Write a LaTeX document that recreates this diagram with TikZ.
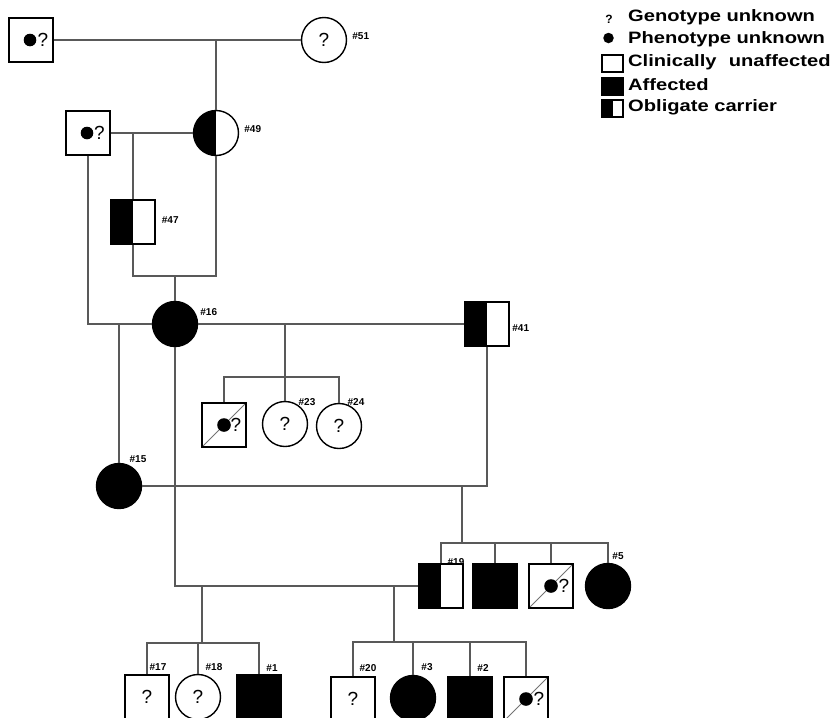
\documentclass[tikz,border=0pt]{standalone}
\usepackage{fontspec}
\setmainfont{Liberation Sans}
\usepackage{graphicx}
\usepackage{tikz}
\usetikzlibrary{positioning}

\begin{document}
\begin{tikzpicture}[x=1pt, y=-1pt,
    male/.style={rectangle, draw=black, line width=1.4pt, minimum size=44pt, inner sep=0pt, font=\fontsize{19}{19}\selectfont},
    female/.style={circle, draw=black, line width=1.4pt, minimum size=45pt, inner sep=0pt, font=\fontsize{19}{19}\selectfont},
    affected/.style={fill=black},
    carrier/.style={path picture={\fill[black] (path picture bounding box.south west) rectangle (path picture bounding box.north);}},
    phenounk/.style={path picture={\fill[black] ([xshift=-1pt]path picture bounding box.center) circle (6.3pt);}},
    deadunk/.style={path picture={\draw[black!55, line width=1pt] (path picture bounding box.south west) -- (path picture bounding box.north east); \fill[black] (path picture bounding box.center) circle (6.8pt);}},
    link/.style={draw=black!65, line width=1.3pt},
    tag/.style={font=\bfseries\fontsize{10}{10}\selectfont, inner sep=0pt},
    legtext/.style={font=\bfseries\fontsize{16.5}{16.5}\selectfont, anchor=base west, inner sep=0pt},
    legbox/.style={rectangle, draw=black, line width=1.1pt, minimum width=21pt, minimum height=17pt, inner sep=0pt}
]
\useasboundingbox (0,0) rectangle (836,718);
\clip (0,0) rectangle (836,718);

\node[male, phenounk] (i1) at (31,40) {\hspace*{24pt}?};
\node[female] (p51) at (324,40) {?};
\node[tag, right=5pt of p51, yshift=4pt] (t51) {\#51};
\coordinate (m1) at (216,40);

\node[male, phenounk] (ii1) at (88,133) {\hspace*{23pt}?};
\node[female, carrier] (p49) at (216,133) {};
\node[tag, right=5pt of p49, yshift=4pt] (t49) {\#49};
\node[male, carrier] (p47) at (133,222) {};
\node[tag, right=6pt of p47, yshift=2pt] (t47) {\#47};
\coordinate (m2) at (133,133);
\coordinate (s2l) at (133,276);
\coordinate (s2r) at (216,276);
\coordinate (s2m) at (175,276);

\node[female, affected] (p16) at (175,324) {};
\node[tag, right=2pt of p16, yshift=12pt] (t16) {\#16};
\node[male, carrier] (p41) at (487,324) {};
\node[tag, right=2.5pt of p41, yshift=-4pt] (t41) {\#41};
\node[female, affected] (p15) at (119,486) {};
\node[tag] (t15) at (138,459) {\#15};
\coordinate (j15) at (119,324);
\coordinate (c41) at (487,486);

\coordinate (m3) at (285,324);
\coordinate (s3) at (285,377);
\node[male, deadunk] (d3) at (224,425) {\hspace*{24pt}?};
\node[female] (p23) at (285,424) {?};
\node[tag] (t23) at (307,402) {\#23};
\node[female] (p24) at (339,426) {?};
\node[tag] (t24) at (356,402) {\#24};

\coordinate (m4) at (462,486);
\coordinate (s4) at (462,543);
\node[male, carrier] (p19) at (441,586) {};
\node[tag] (t19) at (456,562) {\#19};
\node[male, affected] (a4) at (495,586) {};
\node[male, deadunk] (d4) at (551,586) {\hspace*{26pt}?};
\node[female, affected] (p5) at (608,586) {};
\node[tag] (t5) at (618,556) {\#5};

\coordinate (m5) at (202,586);
\coordinate (s5) at (202,643);
\node[male] (p17) at (147,697) {?};
\node[tag] (t17) at (158,667) {\#17};
\node[female] (p18) at (198,697) {?};
\node[tag] (t18) at (214,667) {\#18};
\node[male, affected] (p1) at (259,697) {};
\node[tag] (t1) at (272,668) {\#1};

\coordinate (m6) at (394,586);
\coordinate (s6) at (394,642);
\node[male] (p20) at (353,699) {?};
\node[tag] (t20) at (368,668) {\#20};
\node[female, affected] (p3) at (413,698) {};
\node[tag] (t3) at (427,667) {\#3};
\node[male, affected] (p2) at (470,699) {};
\node[tag] (t2) at (483,668) {\#2};
\node[male, deadunk] (d5) at (526,699) {\hspace*{26pt}?};

\draw[link] (i1) -- (p51);
\draw[link] (m1) -- (p49);
\draw[link] (ii1) -- (p49);
\draw[link] (m2) -- (p47);
\draw[link] (p47) -- (s2l) -- (s2r) -- (p49);
\draw[link] (s2m) -- (p16);
\draw[link] (ii1) |- (p16);
\draw[link] (p16) -- (p41);
\draw[link] (j15) -- (p15);
\draw[link] (p15) -- (c41) -- (p41);
\draw[link] (m3) -- (s3);
\draw[link] (d3) |- (s3) -- (p24 |- s3) -- (p24);
\draw[link] (s3) -- (p23);
\draw[link] (m4) -- (s4);
\draw[link] (p19) |- (s4) -| (p5);
\draw[link] (a4) -- (a4 |- s4);
\draw[link] (d4) -- (d4 |- s4);
\draw[link] (p16) |- (p19);
\draw[link] (m5) -- (s5);
\draw[link] (p17) |- (s5) -| (p1);
\draw[link] (p18) -- (p18 |- s5);
\draw[link] (m6) -- (s6);
\draw[link] (p20) |- (s6) -| (d5);
\draw[link] (p3) -- (p3 |- s6);
\draw[link] (p2) -- (p2 |- s6);

\node[font=\bfseries\fontsize{12}{12}\selectfont, inner sep=0pt] (lq) at (609,19) {?};
\node[circle, fill=black, minimum size=10.5pt, inner sep=0pt] (ldot) at (608.5,38) {};
\node[legbox] (lb1) at (612.5,63.5) {};
\node[legbox, fill=black] (lb2) at (612.5,86.5) {};
\node[legbox, carrier] (lb3) at (612.5,108.5) {};
\node[legtext] (lt1) at (628,21.7) {\scalebox{1.22}[1]{Genotype unknown}};
\node[legtext] (lt2) at (628,43.3) {\scalebox{1.22}[1]{Phenotype unknown}};
\node[legtext] (lt3) at (628,66.7) {\scalebox{1.22}[1]{Clinically\hspace{10pt}unaffected}};
\node[legtext] (lt4) at (628,90) {\scalebox{1.22}[1]{Affected}};
\node[legtext] (lt5) at (628,111.7) {\scalebox{1.22}[1]{Obligate carrier}};
\end{tikzpicture}
\end{document}
